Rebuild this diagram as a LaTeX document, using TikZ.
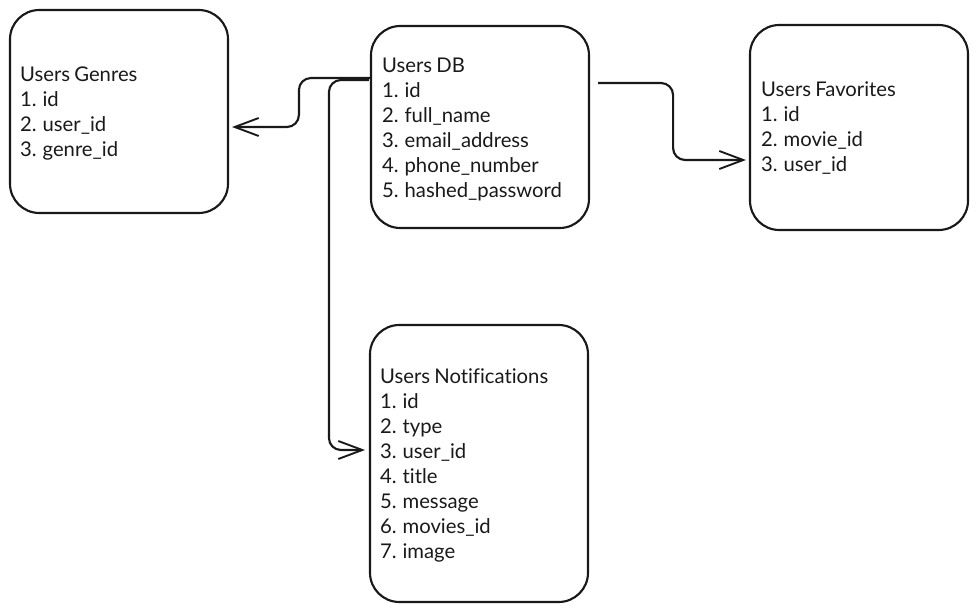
\documentclass[tikz,border=0pt]{standalone}
\usepackage{fontspec}
\setmainfont{Lato}[WordSpace=0.8,Ligatures={NoCommon}]
\usetikzlibrary{arrows.meta,calc}
\begin{document}
\begin{tikzpicture}[x=0.75pt,y=-0.75pt,
  tbl/.style={draw=black!90, line width=1.6pt, rounded corners=22pt, minimum width=163.5pt},
  txt/.style={anchor=west, inner sep=0pt, align=left, yshift=-1.8pt,
    font=\fontsize{15.2}{18.75}\selectfont, text=black!90},
  conn/.style={draw=black!90, line width=1.6pt, rounded corners=9pt,
    -{Straight Barb[length=18pt,width=13.5pt,line width=1.4pt]}}]
\useasboundingbox (0,0) rectangle (978,613);
\node[tbl, minimum height=152.25pt] (genres) at (119,111.5) {};
\node[txt] (genrestxt) at ($(genres.west)+(11,0)$) {Users Genres\\1. id\\2. user\_id\\3. genre\_id};
\node[tbl, minimum height=151.5pt] (db) at (480,127) {};
\node[txt] (dbtxt) at ($(db.west)+(12,0)$) {Users DB\\1. id\\2. full\_name\\3. email\_address\\4. phone\_number\\5. hashed\_password};
\node[tbl, minimum height=153.75pt] (fav) at (859,127.5) {};
\node[txt] (favtxt) at ($(fav.west)+(12,-2)$) {Users Favorites\\1. id\\2. movie\_id\\3. user\_id};
\node[tbl, minimum height=207.75pt] (notif) at (479,463.5) {};
\node[txt] (notiftxt) at ($(notif.west)+(11,0)$) {Users Notifications\\1. id\\2. type\\3. user\_id\\4. title\\5. message\\6. movies\_id\\7. image};
\draw[conn] ($(db.west)+(0,-49)$) -- ++(-71,0) |- ($(genres.east)+(3,15.5)$);
\draw[conn] ($(db.west)+(-1,-47)$) -- ++(-40,0) |- ($(notif.west)+(-4,-13.5)$);
\draw[conn] ($(db.east)+(8,-44)$) -- ++(75,0) |- ($(fav.west)+(-3,32.5)$);
\end{tikzpicture}
\end{document}
